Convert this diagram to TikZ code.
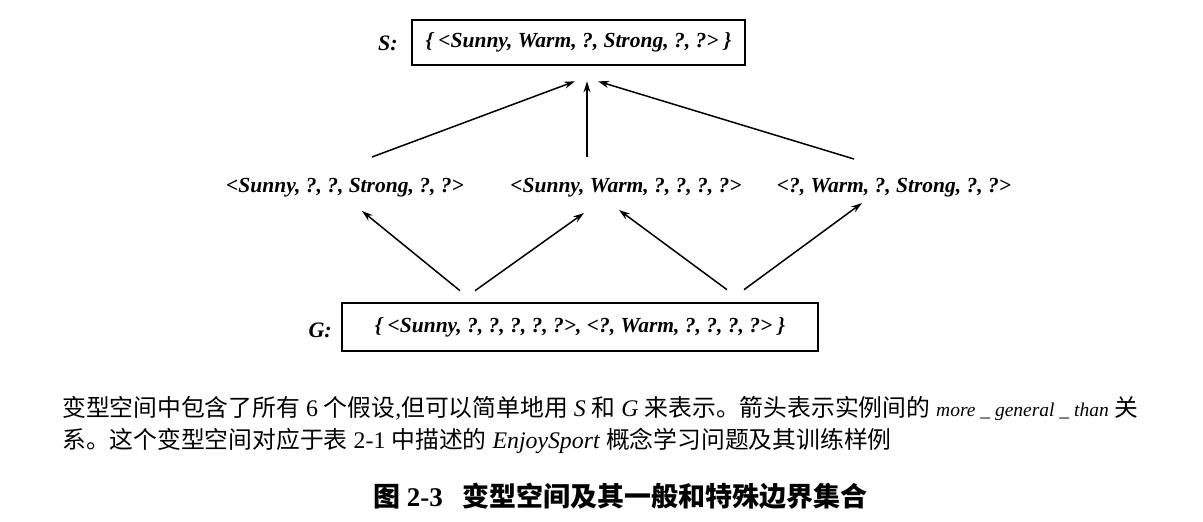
\documentclass[tikz,border=0pt]{standalone}
\usepackage{fontspec}
\setmainfont{Liberation Serif}
\newfontfamily\cjk{Noto Sans CJK SC}
\usetikzlibrary{arrows.meta,calc}
\begin{document}
\begin{tikzpicture}[x=1pt,y=-1pt,
  setbox/.style={draw,line width=2.6pt,inner sep=0pt,font=\fontsize{21.5}{24}\selectfont\itshape\bfseries},
  hyp/.style={inner sep=0pt,anchor=base,font=\fontsize{21.5}{24}\selectfont\itshape\bfseries},
  lbl/.style={inner sep=0pt,anchor=base east,font=\fontsize{22}{24}\selectfont\itshape\bfseries},
  arr/.style={line width=1.5pt,-{Stealth[length=11pt,width=7pt]}},
  captext/.style={inner sep=0pt,anchor=base west,font=\fontsize{23.8}{26}\selectfont}
]
\useasboundingbox (0,0) rectangle (1203,522);
% sets
\node[setbox,minimum width=333pt,minimum height=45pt] (S) at (578.5,42.5) {\{ <Sunny, Warm, ?, Strong, ?, ?> \}};
\node[setbox,minimum width=476pt,minimum height=48pt] (G) at (580,327) {\{ <Sunny, ?, ?, ?, ?, ?>, <?, Warm, ?, ?, ?, ?> \}};
\node[lbl] (Sl) at (398,50) {S:};
\node[lbl] (Gl) at (332,337) {G:};
% middle hypotheses
\node[hyp] (m1) at (345,192) {<Sunny, ?, ?, Strong, ?, ?>};
\node[hyp] (m2) at (626,192) {<Sunny, Warm, ?, ?, ?, ?>};
\node[hyp] (m3) at (894,192) {<?, Warm, ?, Strong, ?, ?>};
% upper arrows
\coordinate (hL) at ([shift={(-3.5,15)}]S.south);
\coordinate (hM) at ([shift={(8.5,15)}]S.south);
\coordinate (hR) at ([shift={(19.5,15)}]S.south);
\coordinate (t1) at ([shift={(27,-35)}]m1.base);
\coordinate (t2) at ([shift={(-39,-35)}]m2.base);
\coordinate (t3) at ([shift={(-40,-33)}]m3.base);
\draw[arr] (t1) -- (hL);
\draw[arr] (t2) -- (hM);
\draw[arr] (t3) -- (hR);
% lower arrows
\coordinate (a1) at ([shift={(17,19)}]m1.base);
\coordinate (a2) at ([shift={(-42,21)}]m2.base);
\coordinate (a3) at ([shift={(-7,18)}]m2.base);
\coordinate (a4) at ([shift={(-32,11)}]m3.base);
\coordinate (b1) at ([shift={(-120,-11)}]G.north);
\coordinate (b2) at ([shift={(-105,-11)}]G.north);
\coordinate (b3) at ([shift={(147,-12)}]G.north);
\coordinate (b4) at ([shift={(164,-12)}]G.north);
\draw[arr] (b1) -- (a1);
\draw[arr] (b2) -- (a2);
\draw[arr] (b3) -- (a3);
\draw[arr] (b4) -- (a4);
% caption
\node[captext] (c1) at (62,416) {{\cjk 变型空间中包含了所有} 6 {\cjk 个假设},{\cjk 但可以简单地用} \textit{S} {\cjk 和} \textit{G} {\cjk 来表示。箭头表示实例间的} {\fontsize{19.5}{22}\selectfont\textit{more \_ general \_ than}} {\cjk 关}};
\node[captext] (c2) at (62,448) {{\cjk 系。这个变型空间对应于表} 2-1 {\cjk 中描述的} \textit{EnjoySport} {\cjk 概念学习问题及其训练样例}};
\node[captext,font=\fontsize{27}{30}\selectfont] (ttl) at (373,506) {{\cjk\bfseries 图} \textbf{2-3}\hspace{20pt}{\cjk\bfseries 变型空间及其一般和特殊边界集合}};
\end{tikzpicture}
\end{document}
